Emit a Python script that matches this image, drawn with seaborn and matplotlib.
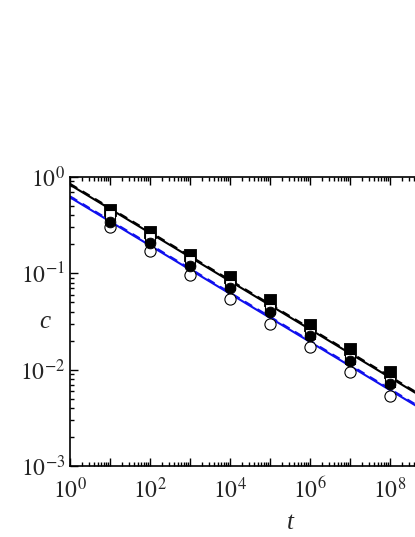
import numpy as np
import pandas as pd
import matplotlib
matplotlib.use('Agg')
import matplotlib.pyplot as plt
import matplotlib.ticker as mticker
import seaborn as sns

# data
t_pts = [1e1, 1e2, 1e3, 1e4, 1e5, 1e6, 1e7, 1e8]
c_sq_filled = [0.454, 0.270, 0.155, 0.091, 0.053, 0.029, 0.0164, 0.0094]
c_sq_open = [0.400, 0.232, 0.135, 0.076, 0.043, 0.0235, 0.0130, 0.0074]
c_ci_filled = [0.340, 0.206, 0.119, 0.070, 0.040, 0.0223, 0.0123, 0.0071]
c_ci_open = [0.300, 0.170, 0.096, 0.054, 0.030, 0.0172, 0.0094, 0.0053]

# fitted power-law lines (end points)
t_line = [1.0, 1e10]
c_black_solid = [0.83, 0.00262]
c_black_dash = [0.85, 0.00269]
c_blue_solid = [0.615, 0.00194]
c_blue_dash = [0.63, 0.00199]

x_labels = ['$10^{0}$', '', '$10^{2}$', '', '$10^{4}$', '', '$10^{6}$', '', '$10^{8}$', '', '']
y_labels = ['$10^{-3}$', '$10^{-2}$', '$10^{-1}$', '$10^{0}$']

sns.set_style('ticks')
plt.rcParams['font.family'] = ['Liberation Serif', 'DejaVu Serif']
plt.rcParams['mathtext.fontset'] = 'stix'

fig = plt.figure(figsize=(4.15, 5.37), dpi=100)
# axes run past the right edge, as in the cropped reference
ax = fig.add_axes([70 / 415, 1 - 466 / 537, 400 / 415, 289 / 537])

lines = pd.DataFrame({'t': t_line, 'bs': c_black_solid, 'bd': c_black_dash,
                      'us': c_blue_solid, 'ud': c_blue_dash})
sns.lineplot(data=lines, x='t', y='bs', color='black', lw=1.5, ax=ax)
sns.lineplot(data=lines, x='t', y='bd', color='black', lw=1.5, ax=ax,
             linestyle=(0, (4, 3)))
sns.lineplot(data=lines, x='t', y='us', color='#1010ee', lw=1.5, ax=ax)
sns.lineplot(data=lines, x='t', y='ud', color='#1010ee', lw=1.5, ax=ax,
             linestyle=(0, (4, 3)))

pts = pd.DataFrame({'t': t_pts, 'sf': c_sq_filled, 'so': c_sq_open,
                    'cf': c_ci_filled, 'co': c_ci_open})
sns.scatterplot(data=pts, x='t', y='sf', marker='s', s=70, color='black',
                edgecolor='black', linewidth=0.6, ax=ax, zorder=5)
sns.scatterplot(data=pts, x='t', y='so', marker='s', s=60, color='white',
                edgecolor='black', linewidth=0.8, ax=ax, zorder=6)
sns.scatterplot(data=pts, x='t', y='cf', marker='o', s=60, color='black',
                edgecolor='black', linewidth=0.6, ax=ax, zorder=7)
sns.scatterplot(data=pts, x='t', y='co', marker='o', s=65, color='white',
                edgecolor='black', linewidth=0.8, ax=ax, zorder=4)

ax.set_xscale('log')
ax.set_yscale('log')
ax.set_xlim(1, 1e10)
ax.set_ylim(1e-3, 1)

ax.set_xticks([10.0 ** k for k in range(0, 11)])
ax.set_xticklabels(x_labels)
ax.xaxis.set_minor_locator(mticker.LogLocator(base=10, subs=np.arange(2, 10), numticks=30))
ax.xaxis.set_minor_formatter(mticker.NullFormatter())
ax.set_yticks([1e-3, 1e-2, 1e-1, 1])
ax.set_yticklabels(y_labels)
ax.yaxis.set_minor_locator(mticker.LogLocator(base=10, subs=np.arange(2, 10), numticks=30))
ax.yaxis.set_minor_formatter(mticker.NullFormatter())

ax.tick_params(which='both', direction='in', top=True, right=False, labelsize=17,
               width=1.0, color='black')
ax.tick_params(which='major', length=6)
ax.tick_params(which='minor', length=3)
ax.tick_params(axis='x', pad=8)
for sp in ax.spines.values():
    sp.set_linewidth(1.2)
    sp.set_color('black')

ax.set_xlabel('t', fontsize=18, style='italic')
ax.set_ylabel('c', fontsize=18, style='italic', rotation=0, va='center')
ax.xaxis.set_label_coords((290 - 70) / 400, -0.16)
ax.yaxis.set_label_coords(-25 / 400, (466 - 322) / 289)

fig.savefig('out.png', dpi=100)
